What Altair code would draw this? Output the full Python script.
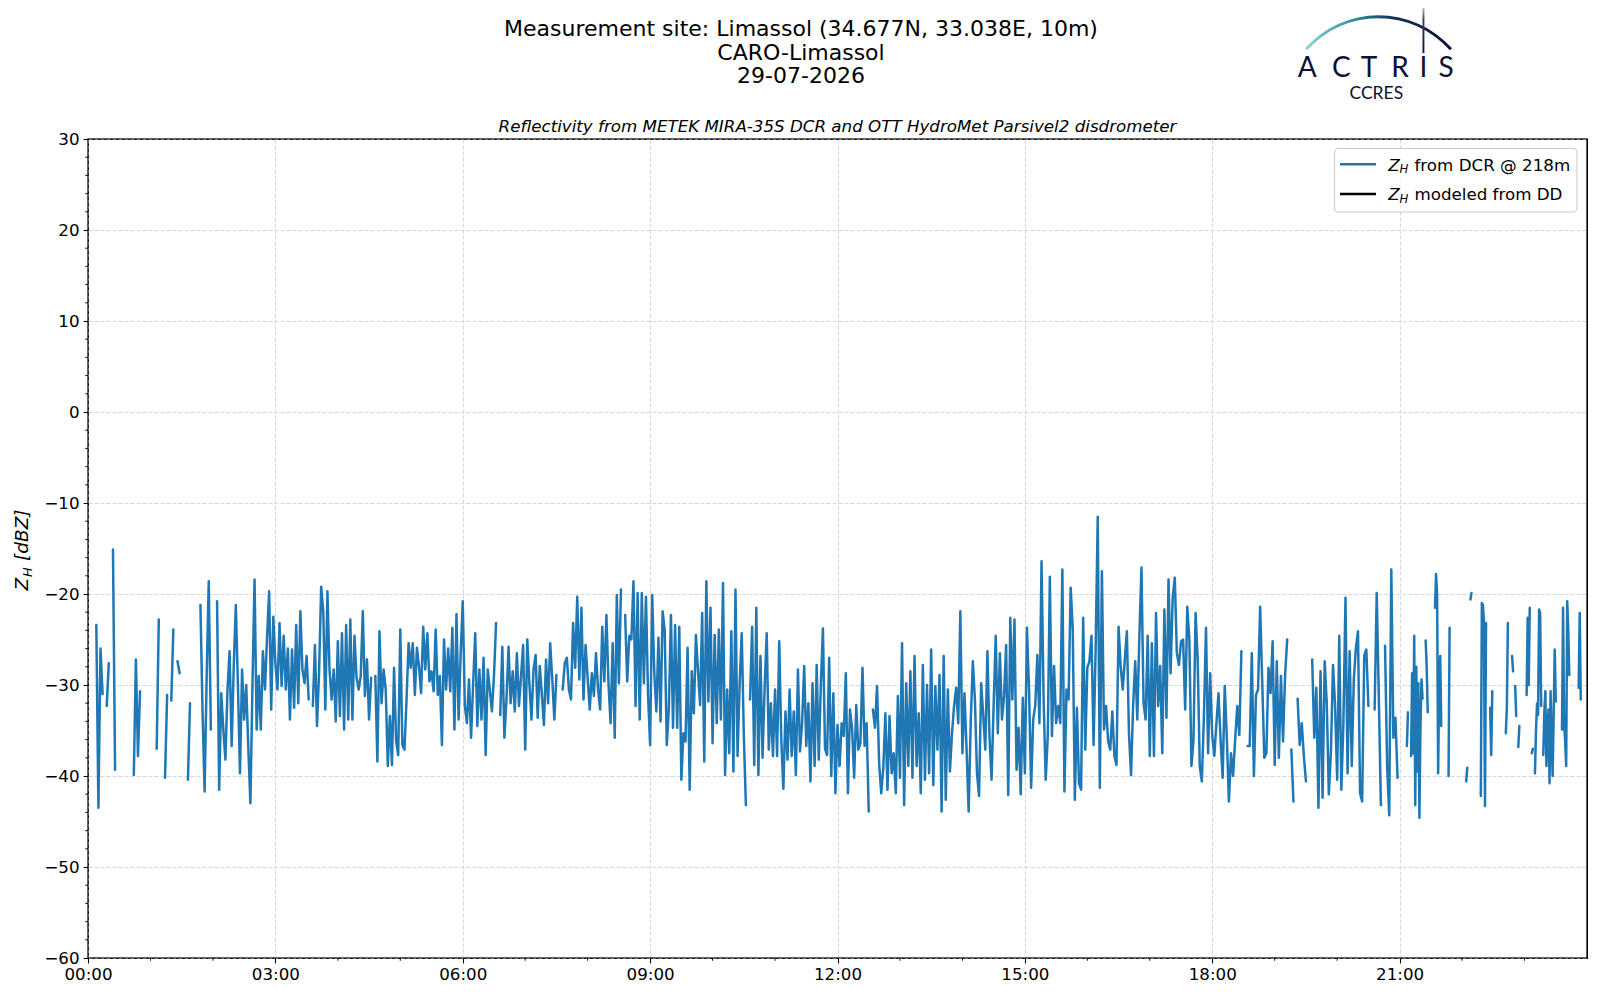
import altair as alt
import pandas as pd

# ---------------- data (dBZ) ----------------
# 00:00-03:00, 2-minute steps
W0 = [None, None, None, None, -23.4, -43.5, -26.0, -31.0, None, -32.3, -27.6, None, -15.1, -39.3,
      None, None, None, None, None, None, None, None,
      -39.9, -27.2, -37.8, -30.7,
      None, None, None, None, None, None, None,
      -37.0, -22.8, None, None, -40.2, -31.1, None, -31.7, -23.9, None, -27.4, -28.7,
      None, None, None, -40.4, -32.0, None, None, None, None,
      -21.2, -32.7, -41.7, -29.1, -18.6, -34.9, None, None,
      -20.8, -41.5, -30.9, -34.9, -38.2, -30.5, -26.3, -36.7, -28.0, -21.2, -30.0, -39.7, -28.3, -33.8,
      -30.0, -36.9, -43.0, -30.0, -18.4, -34.9, -29.0, -34.9, -26.3, -30.5, -24.8, -19.7, -32.7, -22.5]
# 03:00-06:00, 2-minute steps
W1 = [-27.6, -30.5, -23.2, -30.1, -24.6, -30.5, -26.0, -33.8, -26.1, -32.5, -23.4, -32.0, -21.9, -28.3,
      -29.8, -26.8, -31.6, None, -32.3, -25.6, -34.5, -28.5, -19.2, -21.9, -32.7, -19.7, -28.3, -31.6,
      -28.3, -34.0, -25.2, -33.4, -24.3, -34.9, -23.4, -33.8, -22.8, -33.8, -24.6, -29.2, -30.5, -29.0,
      -21.9, -31.2, -27.2, -33.8, -29.2, None, -29.0, -38.4, -24.1, -32.0, -28.3, -30.5, -38.9, -33.4,
      -38.8, -28.1, -36.2, -37.7, -23.9, -36.6, -37.1, -31.6, -25.4, -28.1, -25.4, -31.1, -25.9, -28.0,
      -30.9, -23.6, -28.3, -24.3, -29.6, -28.5, -30.7, -23.9, -31.1, -29.0, -36.6, -25.0, -30.5, -26.0,
      -30.7, -23.7, -34.9, -22.2, -33.8, -26.5]
# 06:00-09:00, 2-minute steps
W2 = [-20.8, -32.3, -34.2, -29.4, -35.8, -29.8, -24.3, -34.5, -28.3, -33.8, -27.0, -37.7, -28.3, -30.5,
      -32.9, -29.0, -23.2, None, -33.3, -25.8, -35.8, -31.6, -25.8, -32.0, -28.5, -32.9, -26.5, -32.3,
      -29.0, -25.6, -37.1, -25.0, -29.8, -33.8, -28.3, -26.7, -33.6, -27.9, -31.1, -34.4, -27.2, -32.0,
      -25.4, -29.4, -33.8, -28.9, None, None, -30.5, -27.6, -27.0, -30.5, -31.6, -23.2, -28.1, -20.3,
      -29.4, -21.5, -31.6, -25.6, -29.2, -32.7, -28.7, -31.2, -26.5, -30.5, -32.7, -23.6, -29.6, -22.3,
      -29.8, -34.2, -25.4, -35.8, -20.1, -29.8, -19.5, None, -22.3, -29.6, -24.6, -25.0, -18.6, -32.3,
      -19.9, -33.8, -19.9, -29.8, -20.3, -31.1]
# 09:00-12:00, 2-minute steps
W3 = [-36.6, -20.1, -28.7, -32.9, -24.8, -34.0, -21.9, -24.0, -36.6, -32.5, -22.3, -34.7, -23.4, -34.7,
      -23.6, -40.4, -35.3, -36.2, -25.9, -41.5, -28.5, -33.1, -24.5, -28.5, -32.2, -22.1, -38.4, -18.6,
      -31.8, -21.5, -36.4, -24.5, -34.2, -23.9, -33.8, -18.8, -39.9, -30.5, -37.5, -24.1, -39.5, -19.5,
      -37.8, -29.8, -24.3, -35.5, -43.2, None, -31.6, -23.6, -38.8, -21.5, -39.9, -26.8, -38.0, -30.3,
      -24.3, -37.1, -32.0, -37.8, -30.5, -37.8, -25.2, -36.0, -41.4, -32.9, -38.2, -30.5, -37.8, -32.9,
      -39.9, -28.3, -37.3, -34.2, -27.9, -36.7, -32.0, -40.6, -29.8, -38.9, -27.8, -38.2, -30.0, -23.8,
      -37.0, -37.7, -27.0, -40.0, -30.9, -41.9]
# 12:00-15:00, 2-minute steps
W4 = [-34.4, -38.9, -34.2, -35.6, -28.7, -41.9, -32.7, -34.7, -40.2, -32.2, -37.1, -36.4, -28.1, -36.7,
      -34.2, -43.9, None, -32.7, -34.7, -30.1, -38.6, -41.9, -39.1, -33.1, -41.5, -33.4, -39.7, -37.5,
      -41.9, -31.2, -40.2, -25.4, -43.2, -29.8, -38.9, -28.5, -40.2, -26.8, -38.9, -33.1, -41.9, -27.8,
      -40.4, -30.0, -39.7, -26.1, -41.0, -30.1, -37.1, -28.9, -43.9, -26.8, -42.6, -30.5, -39.5, -35.3,
      -32.3, -30.3, -34.2, -21.9, -37.5, -30.9, -37.1, -43.9, -34.0, -27.4, -31.6, -39.7, -42.2, -29.8,
      -33.4, -37.1, -26.3, -35.6, -40.4, -32.2, -24.6, -35.3, -26.5, -33.8, -31.2, -25.6, -42.1, -22.6,
      -31.6, -22.8, -39.3, -34.7, -42.0, -31.4]
# 15:00-18:00, 2-minute steps
W5 = [-39.7, -23.7, -30.5, -41.3, -33.8, -32.2, -26.7, -34.2, -16.4, -31.6, -40.4, -35.6, -18.1, -35.6,
      -27.9, -34.2, -32.3, -34.2, -17.3, -41.7, -30.5, -31.6, -19.3, -23.9, -42.6, -32.5, -40.8, -41.5,
      -22.6, -37.1, -28.1, -27.4, -24.6, -36.6, -25.9, -11.5, -41.3, -17.5, -34.9, -32.3, -36.2, -37.1,
      -32.9, -37.8, -38.8, -23.6, -27.9, -30.5, -27.2, -24.1, -35.3, -39.9, -32.2, -27.4, -33.8, -24.6,
      -17.1, -32.0, -33.8, -24.6, -37.8, -25.4, -37.8, -22.1, -32.3, -27.9, -37.5, -21.7, -33.6, -18.4,
      -28.7, -20.4, -18.2, -26.5, -27.8, -25.2, -25.0, -32.7, -21.4, -25.0, -38.9, -36.0, -22.1, -27.2,
      -38.9, -40.6, -33.4, -23.7, -37.5, -28.7]
# 18:00-21:00, 2-minute steps
W6 = [-35.6, -37.8, -34.2, -30.9, -36.0, -40.2, -30.1, -35.8, -42.8, -37.5, -40.0, -36.0, -32.3, -35.5,
      -26.3, None, None, -36.7, -36.7, -26.5, -40.0, -31.1, -30.5, -21.4, -29.6, -38.0, -37.5, -28.1,
      -30.9, -25.2, -38.8, -27.4, -38.0, -29.0, -36.2, -28.9, -25.0, None, -37.1, -42.8, None, -31.5,
      -36.6, -34.2, -37.8, -40.6, None, None, -27.2, -35.8, -30.3, -43.5, -28.5, -42.4, -27.4, -32.0,
      -42.0, -37.3, -27.8, -32.3, -40.4, -24.6, -41.5, -34.2, -20.4, -39.7, -26.3, -38.9, -29.4, -25.9,
      -24.1, -41.9, -42.8, -26.8, -26.1, -32.3, None, None, -32.7, -19.9, -31.2, -43.2, None, -25.7,
      -38.9, -44.3, -17.3, -35.8, -33.6, -40.2]
# 21:00-24:00, 1-minute steps (sparse)
W7 = ([None] * 7 + [-36.7, -33.0] + [None] * 2
      + [-37.8, -28.7, -37.5, -24.6, -43.2, -28.0, -39.5, -29.8, -44.6, -34.7, -29.4, -31.5] + [None] * 2
      + [-25.1, -28.0, -33.0] + [None] * 6
      + [-21.5, -17.8, -20.0, -39.7, -29.6, -26.8, -34.5] + [None] * 6
      + [-40.0, -23.7] + [None] * 15
      + [-40.6, -39.1] + [None] * 2 + [-20.6, -19.9] + [None] * 8
      + [-42.2, -21.0, -21.2, -23.0, -43.3, -23.2] + [None] * 3
      + [-32.5, -37.7, -30.7] + [None] * 12
      + [-35.3, -32.5, -23.2] + [None] * 3
      + [-26.8, -28.5] + [None] + [-30.1, -33.4] + [None] + [-36.8, -34.5] + [None] * 6
      + [-31.1, -22.6, -30.0, -21.5] + [None] + [-37.5, -37.0] + [None]
      + [-39.7, -35.0, -32.0, -33.3, -21.7, -22.1, -32.3] + [None]
      + [-37.7, -33.0, -30.7, -38.9, -35.0, -32.7, -40.8, -30.7, -36.0, -40.0, -33.0, -26.1, -31.8] + [None] * 5
      + [-34.9, -21.5, -34.4, -36.0, -38.9, -20.8, -24.0, -28.9] + [None] * 8
      + [-30.3, -22.1, -31.6] + [None] * 5)

WINDOW_START_H = [0, 3, 6, 9, 12, 15, 18, 21]
WINDOW_STEP_MIN = [2, 2, 2, 2, 2, 2, 2, 1]
WINDOWS = [W0, W1, W2, W3, W4, W5, W6, W7]

X_TICK_HOURS = [0, 3, 6, 9, 12, 15, 18, 21]
X_MINOR_HOURS = [h for h in range(1, 24) if h % 3 != 0]
Y_TICKS = list(range(-60, 31, 10))
Y_MINOR = [v for v in range(-58, 30, 2) if v % 10 != 0]

TITLE_LINES = ["Measurement site: Limassol (34.677N, 33.038E, 10m)", "CARO-Limassol", "29-07-2026"]
SUBTITLE = "Reflectivity from METEK MIRA-35S DCR and OTT HydroMet Parsivel2 disdrometer"
LEGEND_ITEMS = ["from DCR @ 218m", "modeled from DD"]
LEGEND_COLORS = ["#1f77b4", "#000000"]
LOGO_LETTERS = ["A", "C", "T", "R", "I", "S"]

# ---------------- build table ----------------
rows = []
for start, step, vals in zip(WINDOW_START_H, WINDOW_STEP_MIN, WINDOWS):
    for i, v in enumerate(vals):
        rows.append({"h": start + i * step / 60.0, "z": v})
df = pd.DataFrame(rows)

W, H = 1499, 819
FONT = "DejaVu Sans"
one = pd.DataFrame({"k": [0]})

x_enc = alt.X("h:Q", scale=alt.Scale(domain=[0, 24], nice=False, zero=False),
              axis=alt.Axis(values=X_TICK_HOURS, title=None, grid=True, labelFlush=False,
                            labelOverlap=False,
                            labelExpr="(datum.value < 10 ? '0' : '') + datum.value + ':00'"))
y_enc = alt.Y("z:Q", scale=alt.Scale(domain=[-60, 30], nice=False, zero=False),
              axis=alt.Axis(values=Y_TICKS, title=None, grid=True, labelOverlap=False))

line = alt.Chart(df).mark_line(color="#1f77b4", strokeWidth=2.5, strokeJoin="round",
                               strokeCap="round", clip=True,
                               invalid="break-paths-filter-domains").encode(x=x_enc, y=y_enc)

xminor = alt.Chart(pd.DataFrame({"h": X_MINOR_HOURS})).mark_rule(color="black", strokeWidth=0.9).encode(
    x=alt.X("h:Q"), y=alt.value(H), y2=alt.value(H + 2.8))
yminor = alt.Chart(pd.DataFrame({"z": Y_MINOR})).mark_rule(color="black", strokeWidth=0.9).encode(
    y=alt.Y("z:Q"), x=alt.value(0), x2=alt.value(-2.8))

# plot frame drawn on top of the grid
frame = alt.Chart(one).mark_rect(fillOpacity=0, stroke="black", strokeWidth=1.1).encode(
    x=alt.value(0), x2=alt.value(W), y=alt.value(0), y2=alt.value(H))

layers = [line, xminor, yminor, frame]

def txt(s, x, y, size, align="left", style="normal", color="black", font=FONT, angle=0, weight="normal"):
    kw = dict(text=s, fontSize=size, align=align, baseline="alphabetic", fontStyle=style,
              color=color, font=font, fontWeight=weight)
    if angle:
        kw["angle"] = angle
    return alt.Chart(one).mark_text(**kw).encode(x=alt.value(x), y=alt.value(y))

# titles
for line_txt, yb in zip(TITLE_LINES, [-102.8, -79.0, -56.0]):
    layers.append(txt(line_txt, 713, yb, 22.0, align="center"))
layers.append(txt(SUBTITLE, 749.5, -7.5, 16.7, align="center", style="italic"))

# y-axis label  Z_H [dBZ]
layers.append(txt("Z", -59.7, 451.5, 18.5, style="italic", angle=270))
layers.append(txt("H", -55.8, 438.0, 12.8, style="italic", angle=270))
layers.append(txt("[dBZ]", -59.7, 422.0, 18.5, style="italic", angle=270))

# legend
layers.append(alt.Chart(one).mark_rect(fill="white", fillOpacity=0.8, stroke="#cccccc",
                                       strokeWidth=1.1, cornerRadius=4).encode(
    x=alt.value(1246.5), x2=alt.value(1489), y=alt.value(9.5), y2=alt.value(73)))
for i, (lab, col) in enumerate(zip(LEGEND_ITEMS, LEGEND_COLORS)):
    yl = 25.3 + 29.7 * i
    layers.append(alt.Chart(one).mark_rule(color=col, strokeWidth=2.5).encode(
        x=alt.value(1252), x2=alt.value(1288), y=alt.value(yl)))
    layers.append(txt("Z", 1300.3, yl + 6.2, 16.7, style="italic"))
    layers.append(txt("H", 1311.6, yl + 9.0, 11.7, style="italic"))
    layers.append(txt(lab, 1326.5, yl + 6.2, 16.7))

# ACTRIS / CCRES logo
NAVY = "#0d1036"
arc_grad = alt.LinearGradient(gradient="linear", x1=0, y1=0, x2=1, y2=0,
                              stops=[alt.GradientStop(offset=0, color="#8fd6d0"),
                                     alt.GradientStop(offset=0.35, color="#2a8d98"),
                                     alt.GradientStop(offset=0.6, color="#123055"),
                                     alt.GradientStop(offset=1, color=NAVY)])
layers.append(alt.Chart(one).mark_arc(fill=arc_grad, radius=98.3, radius2=95.4,
                                      theta=5.438, theta2=7.128).encode(
    x=alt.value(1290.5), y=alt.value(-25.4)))
bar_grad = alt.LinearGradient(gradient="linear", x1=0, y1=0, x2=0, y2=1,
                              stops=[alt.GradientStop(offset=0, color="#ffffff"),
                                     alt.GradientStop(offset=0.35, color="#3a3d62"),
                                     alt.GradientStop(offset=1, color=NAVY)])
layers.append(alt.Chart(one).mark_rect(fill=bar_grad).encode(
    x=alt.value(1334.5), x2=alt.value(1336.4), y=alt.value(-137.5), y2=alt.value(-86.0)))
LETTER_X = [1219.3, 1253.3, 1281.0, 1312.0, 1335.4, 1358.0]
for ch, lx in zip(LOGO_LETTERS, LETTER_X):
    layers.append(txt(ch, lx, -61.7, 28.0, align="center", color=NAVY, font="Lato"))
layers.append(txt("CCRES", 1288.3, -40.0, 17.5, align="center", color=NAVY, font="Lato"))

chart = alt.layer(*layers).properties(
    width=W, height=H,
    padding={"left": 80, "top": 131, "right": 5, "bottom": 35},
    autosize=alt.AutoSizeParams(type="none"),
    background="white",
).configure_view(stroke="black", strokeWidth=1.1).configure_axis(
    labelFont=FONT, labelFontSize=16.7, labelColor="black", tickColor="black",
    tickSize=4.9, tickWidth=1.1, domain=False, labelPadding=4.0,
    gridColor="#d6d6d6", gridDash=[4, 2], gridWidth=1.0,
)

chart.save("out.html", embed_options={"renderer": "svg", "actions": False})
